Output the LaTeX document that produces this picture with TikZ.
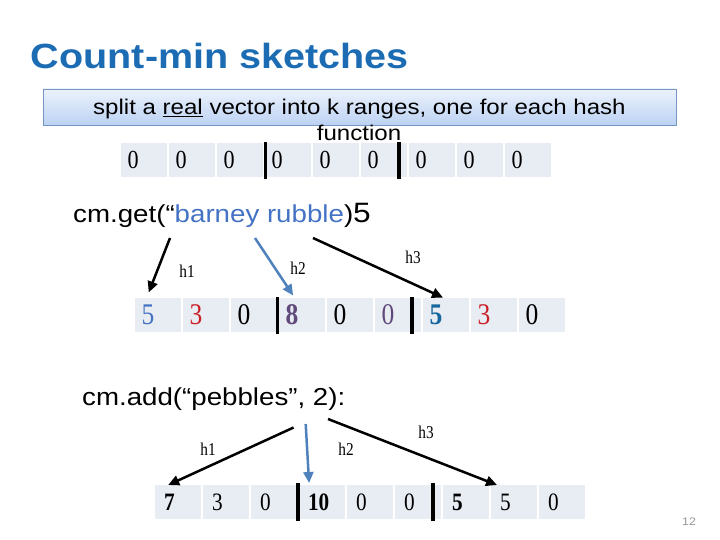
\documentclass[tikz,border=0pt]{standalone}
\usepackage{fontspec}
\setmainfont{Liberation Serif}
\newfontfamily\slidefont[FakeStretch=1.13]{Liberation Sans}
\newfontfamily\cellfont[FakeStretch=0.85]{Liberation Serif}
\usetikzlibrary{arrows.meta}
\definecolor{titleblue}{RGB}{28,108,180}
\definecolor{cellfill}{RGB}{232,236,243}
\definecolor{boxtop}{RGB}{236,242,252}
\definecolor{boxbottom}{RGB}{188,210,243}
\definecolor{boxline}{RGB}{120,150,195}
\definecolor{queryblue}{RGB}{68,114,196}
\definecolor{hashblue}{RGB}{79,129,189}
\definecolor{countred}{RGB}{204,32,40}
\definecolor{countpurple}{RGB}{96,74,123}
\definecolor{countteal}{RGB}{24,104,160}
\definecolor{pagegray}{RGB}{150,150,150}

\tikzset{
  cell/.style={fill=cellfill, anchor=north west, minimum width=46pt, minimum height=34pt,
    inner ysep=0pt, inner xsep=6.5pt, text width=33pt, align=left, outer sep=0pt},
  cellA/.style={cell, font=\cellfont\fontsize{26}{26}\selectfont},
  cellB/.style={cell, font=\cellfont\fontsize{30}{30}\selectfont},
  cellC/.style={cell, inner xsep=9pt, text width=28pt, font=\cellfont\fontsize{25}{25}\selectfont},
  rangebar/.style={line width=3.5pt},
  hasharrow/.style={line width=2.5pt, -{Triangle[length=11pt,width=10pt]}},
  hashlabel/.style={font=\cellfont\fontsize{18}{18}\selectfont},
  query/.style={anchor=base west, inner sep=0pt, font=\slidefont\fontsize{24.5}{24.5}\selectfont}
}

\begin{document}
\begin{tikzpicture}[x=1pt, y=-1pt]
  \useasboundingbox (0,0) rectangle (720,540);

  % title
  \node[anchor=base west, inner sep=0pt, text=titleblue,
        font=\slidefont\bfseries\fontsize{35}{35}\selectfont] (title) at (30.7,68.3) {Count-min sketches};

  % hint box, text runs over
  \node[draw=boxline, top color=boxtop, bottom color=boxbottom, minimum width=633pt, minimum height=36pt,
        inner sep=0pt, text depth=0pt, font=\slidefont\fontsize{21.3}{21.3}\selectfont] (split) at (359.4,107)
        {split a \underline{real} vector into k ranges, one for each hash};
  \node[anchor=base, inner sep=0pt, font=\slidefont\fontsize{21.3}{21.3}\selectfont] (wrap) at (359,141) {function};

  % empty vector
  \node[cellA] (v1) at (121,143) {0};
  \node[cellA] (v2) at (169,143) {0};
  \node[cellA] (v3) at (217,143) {0};
  \node[cellA] (v4) at (265,143) {0};
  \node[cellA] (v5) at (313,143) {0};
  \node[cellA] (v6) at (361,143) {0};
  \node[cellA] (v7) at (409,143) {0};
  \node[cellA] (v8) at (457,143) {0};
  \node[cellA] (v9) at (505,143) {0};
  \draw[rangebar] (265.7,142) -- (265.7,179);
  \draw[rangebar] (399,142) -- (399,179);

  % get query
  \node[query] (get) at (73,222.7) {cm.get(“\textcolor{queryblue}{barney rubble})\fontsize{28}{28}\selectfont 5};
  \node[cellB, text=queryblue] (g1) at (135,298) {5};
  \node[cellB, text=countred] (g2) at (183,298) {3};
  \node[cellB] (g3) at (231,298) {0};
  \node[cellB, text=countpurple, font=\cellfont\bfseries\fontsize{30}{30}\selectfont] (g4) at (279,298) {8};
  \node[cellB] (g5) at (327,298) {0};
  \node[cellB, text=countpurple] (g6) at (375,298) {0};
  \node[cellB, text=countteal, font=\cellfont\bfseries\fontsize{30}{30}\selectfont] (g7) at (423,298) {5};
  \node[cellB, text=countred] (g8) at (471,298) {3};
  \node[cellB] (g9) at (519,298) {0};
  \draw[rangebar] (277.7,297) -- (277.7,334);
  \draw[rangebar] (412,297) -- (412,334);

  \coordinate (getfrom1) at (170,238);
  \coordinate (getfrom2) at (255,238);
  \coordinate (getfrom3) at (313,238);
  \draw[hasharrow, shorten >=6pt] (getfrom1) -- (g1.124);
  \draw[hasharrow, hashblue, shorten >=3pt] (getfrom2) -- (g4.113);
  \draw[hasharrow, shorten >=1pt] (getfrom3) -- (g7.97);
  \node[hashlabel] (gh1) at (187,271) {h1};
  \node[hashlabel] (gh2) at (298,268) {h2};
  \node[hashlabel] (gh3) at (413,257) {h3};

  % add query
  \node[query] (add) at (82,405) {cm.add(“pebbles”, 2):};
  \node[cellC, font=\cellfont\bfseries\fontsize{25}{25}\selectfont] (a1) at (155,485) {7};
  \node[cellC] (a2) at (203,485) {3};
  \node[cellC] (a3) at (251,485) {0};
  \node[cellC, font=\cellfont\bfseries\fontsize{25}{25}\selectfont] (a4) at (299,485) {10};
  \node[cellC] (a5) at (347,485) {0};
  \node[cellC] (a6) at (395,485) {0};
  \node[cellC, font=\cellfont\bfseries\fontsize{25}{25}\selectfont] (a7) at (443,485) {5};
  \node[cellC] (a8) at (491,485) {5};
  \node[cellC] (a9) at (539,485) {0};
  \draw[rangebar] (298,483) -- (298,521);
  \draw[rangebar] (433,483) -- (433,521);

  \coordinate (addfrom1) at (293.6,427.5);
  \coordinate (addfrom2) at (305.7,424);
  \coordinate (addfrom3) at (328,419);
  \draw[hasharrow] (addfrom1) -- (a1.120);
  \draw[hasharrow, hashblue, shorten >=2pt] (addfrom2) -- (a4.127);
  \draw[hasharrow] (addfrom3) -- (a8.135);
  \node[hashlabel] (ah1) at (208,449) {h1};
  \node[hashlabel] (ah2) at (346,449) {h2};
  \node[hashlabel] (ah3) at (426,432) {h3};

  % slide number
  \node[text=pagegray, font=\slidefont\fontsize{11}{11}\selectfont] (page) at (689,521.5) {12};
\end{tikzpicture}
\end{document}
